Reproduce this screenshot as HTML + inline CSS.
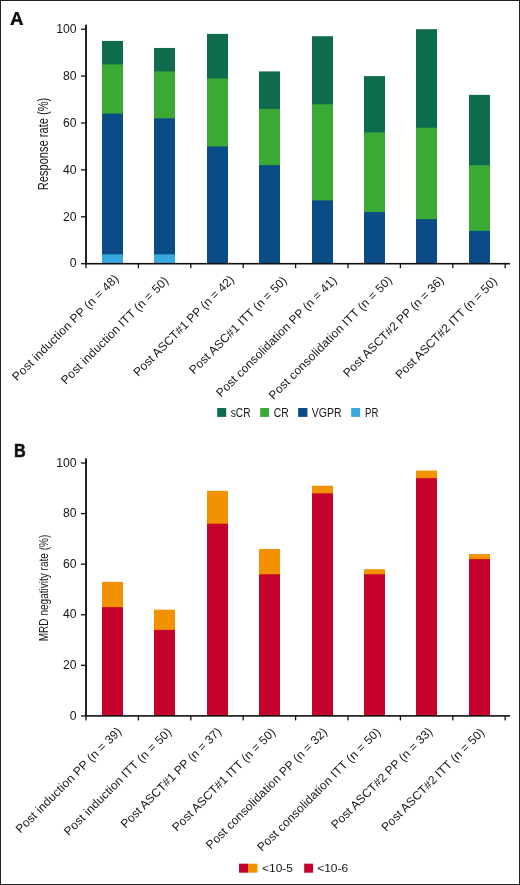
<!DOCTYPE html>
<html><head><meta charset="utf-8"><style>
html,body{margin:0;padding:0;background:#fff;}
body{width:520px;height:885px;overflow:hidden;position:relative;}
svg{position:absolute;left:0;top:0;font-family:"Liberation Sans", sans-serif;will-change:transform;}
.frame{position:absolute;left:0;top:0;width:518px;height:883px;border:1px solid #222;}
</style></head><body>
<svg width="520" height="885" viewBox="0 0 520 885">
<rect x="102.00" y="40.92" width="21.00" height="222.78" fill="#0f6b4e"/>
<rect x="102.00" y="64.38" width="21.00" height="199.32" fill="#3aaa35"/>
<rect x="102.00" y="113.62" width="21.00" height="150.08" fill="#0c4c86"/>
<rect x="102.00" y="254.32" width="21.00" height="9.38" fill="#38a8e0"/>
<rect x="154.00" y="47.96" width="21.00" height="215.74" fill="#0f6b4e"/>
<rect x="154.00" y="71.41" width="21.00" height="192.29" fill="#3aaa35"/>
<rect x="154.00" y="118.31" width="21.00" height="145.39" fill="#0c4c86"/>
<rect x="154.00" y="254.32" width="21.00" height="9.38" fill="#38a8e0"/>
<rect x="207.00" y="33.89" width="21.00" height="229.81" fill="#0f6b4e"/>
<rect x="207.00" y="78.44" width="21.00" height="185.25" fill="#3aaa35"/>
<rect x="207.00" y="146.45" width="21.00" height="117.25" fill="#0c4c86"/>
<rect x="259.00" y="71.41" width="21.00" height="192.29" fill="#0f6b4e"/>
<rect x="259.00" y="108.93" width="21.00" height="154.77" fill="#3aaa35"/>
<rect x="259.00" y="165.21" width="21.00" height="98.49" fill="#0c4c86"/>
<rect x="312.00" y="36.23" width="21.00" height="227.47" fill="#0f6b4e"/>
<rect x="312.00" y="104.24" width="21.00" height="159.46" fill="#3aaa35"/>
<rect x="312.00" y="200.38" width="21.00" height="63.31" fill="#0c4c86"/>
<rect x="364.00" y="76.10" width="21.00" height="187.60" fill="#0f6b4e"/>
<rect x="364.00" y="132.38" width="21.00" height="131.32" fill="#3aaa35"/>
<rect x="364.00" y="212.11" width="21.00" height="51.59" fill="#0c4c86"/>
<rect x="416.00" y="29.20" width="21.00" height="234.50" fill="#0f6b4e"/>
<rect x="416.00" y="127.69" width="21.00" height="136.01" fill="#3aaa35"/>
<rect x="416.00" y="219.14" width="21.00" height="44.56" fill="#0c4c86"/>
<rect x="469.00" y="94.86" width="21.00" height="168.84" fill="#0f6b4e"/>
<rect x="469.00" y="165.21" width="21.00" height="98.49" fill="#3aaa35"/>
<rect x="469.00" y="230.87" width="21.00" height="32.83" fill="#0c4c86"/>
<rect x="102.00" y="581.86" width="21.00" height="134.04" fill="#f39200"/>
<rect x="102.00" y="607.15" width="21.00" height="108.75" fill="#c5022c"/>
<rect x="154.00" y="609.68" width="21.00" height="106.22" fill="#f39200"/>
<rect x="154.00" y="629.91" width="21.00" height="85.99" fill="#c5022c"/>
<rect x="207.00" y="490.82" width="21.00" height="225.08" fill="#f39200"/>
<rect x="207.00" y="523.70" width="21.00" height="192.20" fill="#c5022c"/>
<rect x="259.00" y="548.99" width="21.00" height="166.91" fill="#f39200"/>
<rect x="259.00" y="574.28" width="21.00" height="141.62" fill="#c5022c"/>
<rect x="312.00" y="485.76" width="21.00" height="230.14" fill="#f39200"/>
<rect x="312.00" y="493.35" width="21.00" height="222.55" fill="#c5022c"/>
<rect x="364.00" y="569.22" width="21.00" height="146.68" fill="#f39200"/>
<rect x="364.00" y="574.28" width="21.00" height="141.62" fill="#c5022c"/>
<rect x="416.00" y="470.59" width="21.00" height="245.31" fill="#f39200"/>
<rect x="416.00" y="478.17" width="21.00" height="237.73" fill="#c5022c"/>
<rect x="469.00" y="554.04" width="21.00" height="161.86" fill="#f39200"/>
<rect x="469.00" y="559.10" width="21.00" height="156.80" fill="#c5022c"/>
<rect x="85.08" y="24.60" width="1.85" height="239.10" fill="#111"/>
<rect x="85.08" y="262.90" width="424.93" height="1.60" fill="#111"/>
<rect x="81.00" y="263.05" width="5.00" height="1.30" fill="#111"/>
<text x="76.60" y="267.40" font-size="12.2" text-anchor="end" font-weight="normal" fill="#161616" >0</text>
<rect x="81.00" y="216.15" width="5.00" height="1.30" fill="#111"/>
<text x="76.60" y="220.50" font-size="12.2" text-anchor="end" font-weight="normal" fill="#161616" >20</text>
<rect x="81.00" y="169.25" width="5.00" height="1.30" fill="#111"/>
<text x="76.60" y="173.60" font-size="12.2" text-anchor="end" font-weight="normal" fill="#161616" >40</text>
<rect x="81.00" y="122.35" width="5.00" height="1.30" fill="#111"/>
<text x="76.60" y="126.70" font-size="12.2" text-anchor="end" font-weight="normal" fill="#161616" >60</text>
<rect x="81.00" y="75.45" width="5.00" height="1.30" fill="#111"/>
<text x="76.60" y="79.80" font-size="12.2" text-anchor="end" font-weight="normal" fill="#161616" >80</text>
<rect x="81.00" y="28.55" width="5.00" height="1.30" fill="#111"/>
<text x="76.60" y="32.90" font-size="12.2" text-anchor="end" font-weight="normal" fill="#161616" >100</text>
<rect x="85.35" y="263.70" width="1.30" height="4.50" fill="#111"/>
<rect x="137.75" y="263.70" width="1.30" height="4.50" fill="#111"/>
<rect x="190.15" y="263.70" width="1.30" height="4.50" fill="#111"/>
<rect x="242.55" y="263.70" width="1.30" height="4.50" fill="#111"/>
<rect x="294.95" y="263.70" width="1.30" height="4.50" fill="#111"/>
<rect x="347.35" y="263.70" width="1.30" height="4.50" fill="#111"/>
<rect x="399.75" y="263.70" width="1.30" height="4.50" fill="#111"/>
<rect x="452.15" y="263.70" width="1.30" height="4.50" fill="#111"/>
<rect x="504.55" y="263.70" width="1.30" height="4.50" fill="#111"/>
<text x="0" y="0" font-size="12" fill="#161616" textLength="144.40" lengthAdjust="spacing" transform="translate(17.11,381.49) rotate(-45)">Post induction PP (n = 48)</text>
<text x="0" y="0" font-size="12" fill="#161616" textLength="146.27" lengthAdjust="spacing" transform="translate(65.77,384.97) rotate(-45)">Post induction ITT (n = 50)</text>
<text x="0" y="0" font-size="12" fill="#161616" textLength="136.60" lengthAdjust="spacing" transform="translate(138.14,376.94) rotate(-45)">Post ASCT#1 PP (n = 42)</text>
<text x="0" y="0" font-size="12" fill="#161616" textLength="132.13" lengthAdjust="spacing" transform="translate(194.12,374.82) rotate(-45)">Post ASC#1 ITT (n = 50)</text>
<text x="0" y="0" font-size="12" fill="#161616" textLength="164.85" lengthAdjust="spacing" transform="translate(220.91,397.69) rotate(-45)">Post consolidation PP (n = 41)</text>
<text x="0" y="0" font-size="12" fill="#161616" textLength="168.67" lengthAdjust="spacing" transform="translate(273.45,400.15) rotate(-45)">Post consolidation ITT (n = 50)</text>
<text x="0" y="0" font-size="12" fill="#161616" textLength="136.60" lengthAdjust="spacing" transform="translate(347.93,377.85) rotate(-45)">Post ASCT#2 PP (n = 36)</text>
<text x="0" y="0" font-size="12" fill="#161616" textLength="137.98" lengthAdjust="spacing" transform="translate(400.19,379.59) rotate(-45)">Post ASCT#2 ITT (n = 50)</text>
<text x="0" y="0" font-size="13.8" text-anchor="middle" fill="#161616" textLength="92.5" lengthAdjust="spacingAndGlyphs" transform="translate(47.80,144.00) rotate(-90)">Response rate (%)</text>
<rect x="85.08" y="458.40" width="1.85" height="257.50" fill="#111"/>
<rect x="85.08" y="715.10" width="424.93" height="1.60" fill="#111"/>
<rect x="81.00" y="715.25" width="5.00" height="1.30" fill="#111"/>
<text x="76.60" y="719.60" font-size="12.2" text-anchor="end" font-weight="normal" fill="#161616" >0</text>
<rect x="81.00" y="664.67" width="5.00" height="1.30" fill="#111"/>
<text x="76.60" y="669.02" font-size="12.2" text-anchor="end" font-weight="normal" fill="#161616" >20</text>
<rect x="81.00" y="614.09" width="5.00" height="1.30" fill="#111"/>
<text x="76.60" y="618.44" font-size="12.2" text-anchor="end" font-weight="normal" fill="#161616" >40</text>
<rect x="81.00" y="563.51" width="5.00" height="1.30" fill="#111"/>
<text x="76.60" y="567.86" font-size="12.2" text-anchor="end" font-weight="normal" fill="#161616" >60</text>
<rect x="81.00" y="512.93" width="5.00" height="1.30" fill="#111"/>
<text x="76.60" y="517.28" font-size="12.2" text-anchor="end" font-weight="normal" fill="#161616" >80</text>
<rect x="81.00" y="462.35" width="5.00" height="1.30" fill="#111"/>
<text x="76.60" y="466.70" font-size="12.2" text-anchor="end" font-weight="normal" fill="#161616" >100</text>
<rect x="85.35" y="715.90" width="1.30" height="4.50" fill="#111"/>
<rect x="137.75" y="715.90" width="1.30" height="4.50" fill="#111"/>
<rect x="190.15" y="715.90" width="1.30" height="4.50" fill="#111"/>
<rect x="242.55" y="715.90" width="1.30" height="4.50" fill="#111"/>
<rect x="294.95" y="715.90" width="1.30" height="4.50" fill="#111"/>
<rect x="347.35" y="715.90" width="1.30" height="4.50" fill="#111"/>
<rect x="399.75" y="715.90" width="1.30" height="4.50" fill="#111"/>
<rect x="452.15" y="715.90" width="1.30" height="4.50" fill="#111"/>
<rect x="504.55" y="715.90" width="1.30" height="4.50" fill="#111"/>
<text x="0" y="0" font-size="12" fill="#161616" textLength="143.67" lengthAdjust="spacing" transform="translate(20.56,833.84) rotate(-45)">Post induction PP (n = 39)</text>
<text x="0" y="0" font-size="12" fill="#161616" textLength="146.27" lengthAdjust="spacing" transform="translate(68.73,836.19) rotate(-45)">Post induction ITT (n = 50)</text>
<text x="0" y="0" font-size="12" fill="#161616" textLength="136.34" lengthAdjust="spacing" transform="translate(125.56,828.84) rotate(-45)">Post ASCT#1 PP (n = 37)</text>
<text x="0" y="0" font-size="12" fill="#161616" textLength="140.16" lengthAdjust="spacing" transform="translate(177.02,832.10) rotate(-45)">Post ASCT#1 ITT (n = 50)</text>
<text x="0" y="0" font-size="12" fill="#161616" textLength="165.59" lengthAdjust="spacing" transform="translate(210.87,849.87) rotate(-45)">Post consolidation PP (n = 32)</text>
<text x="0" y="0" font-size="12" fill="#161616" textLength="168.67" lengthAdjust="spacing" transform="translate(262.02,852.10) rotate(-45)">Post consolidation ITT (n = 50)</text>
<text x="0" y="0" font-size="12" fill="#161616" textLength="137.30" lengthAdjust="spacing" transform="translate(336.10,829.52) rotate(-45)">Post ASCT#2 PP (n = 33)</text>
<text x="0" y="0" font-size="12" fill="#161616" textLength="139.93" lengthAdjust="spacing" transform="translate(386.16,832.10) rotate(-45)">Post ASCT#2 ITT (n = 50)</text>
<text x="0" y="0" font-size="12.5" text-anchor="middle" fill="#161616" textLength="106.5" lengthAdjust="spacingAndGlyphs" transform="translate(48.40,588.00) rotate(-90)">MRD negativity rate (%)</text>
<path fill="#111" fill-rule="evenodd" d="M10.2,24.9 L15.2,11.9 L18.3,11.9 L23.3,24.9 L20.0,24.9 L19.0,21.7 L14.5,21.7 L13.5,24.9 Z M15.2,19.2 L18.3,19.2 L16.75,14.6 Z"/>
<text x="0" y="0" font-size="18" font-weight="bold" fill="#111" stroke="#111" stroke-width="0.5" transform="translate(14.0,456.7) scale(0.9,1)">B</text>
<rect x="217.20" y="408.00" width="9.00" height="8.90" fill="#0f6b4e"/>
<text x="230.70" y="416.70" font-size="12" fill="#161616" textLength="19.90" lengthAdjust="spacingAndGlyphs">sCR</text>
<rect x="260.20" y="408.00" width="8.90" height="8.90" fill="#3aaa35"/>
<text x="273.70" y="416.70" font-size="12" fill="#161616" textLength="15.00" lengthAdjust="spacingAndGlyphs">CR</text>
<rect x="298.10" y="408.00" width="9.30" height="8.90" fill="#0c4c86"/>
<text x="311.70" y="416.70" font-size="12" fill="#161616" textLength="29.80" lengthAdjust="spacingAndGlyphs">VGPR</text>
<rect x="351.20" y="408.00" width="8.90" height="8.90" fill="#38a8e0"/>
<text x="365.00" y="416.70" font-size="12" fill="#161616" textLength="13.30" lengthAdjust="spacingAndGlyphs">PR</text>
<rect x="239.00" y="863.70" width="9.00" height="9.00" fill="#c5022c"/>
<rect x="248.00" y="863.70" width="9.50" height="9.00" fill="#f39200"/>
<text x="262.00" y="871.90" font-size="11.8" fill="#161616" textLength="31.00" lengthAdjust="spacingAndGlyphs">&lt;10-5</text>
<rect x="304.20" y="863.70" width="8.90" height="9.00" fill="#c5022c"/>
<text x="317.20" y="871.90" font-size="11.8" fill="#161616" textLength="31.00" lengthAdjust="spacingAndGlyphs">&lt;10-6</text>
</svg>
<div class="frame"></div>
</body></html>
